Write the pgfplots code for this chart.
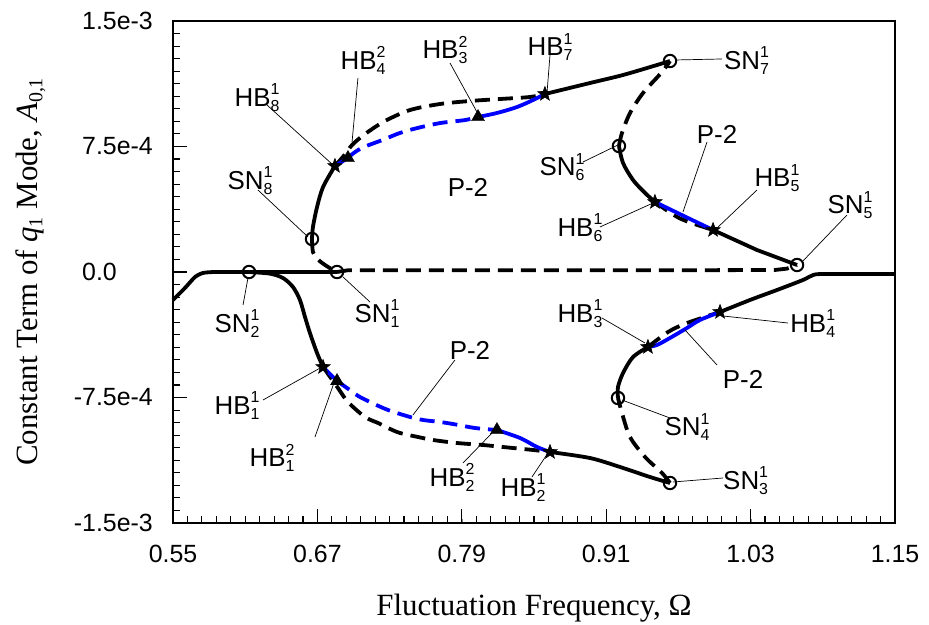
\documentclass[border=0pt]{standalone}
\usepackage{pgfplots}
\pgfplotsset{compat=1.18}
\usepackage{fontspec}
\setmainfont{Liberation Serif}
\newfontfamily\arial{Liberation Sans}
\pgfdeclareplotmark{fstar}{%
  \pgfpathmoveto{\pgfpointpolar{90}{\pgfplotmarksize}}%
  \pgfpathlineto{\pgfpointpolar{126}{0.42\pgfplotmarksize}}%
  \pgfpathlineto{\pgfpointpolar{162}{\pgfplotmarksize}}%
  \pgfpathlineto{\pgfpointpolar{198}{0.42\pgfplotmarksize}}%
  \pgfpathlineto{\pgfpointpolar{234}{\pgfplotmarksize}}%
  \pgfpathlineto{\pgfpointpolar{270}{0.42\pgfplotmarksize}}%
  \pgfpathlineto{\pgfpointpolar{306}{\pgfplotmarksize}}%
  \pgfpathlineto{\pgfpointpolar{342}{0.42\pgfplotmarksize}}%
  \pgfpathlineto{\pgfpointpolar{18}{\pgfplotmarksize}}%
  \pgfpathlineto{\pgfpointpolar{54}{0.42\pgfplotmarksize}}%
  \pgfpathclose\pgfusepathqfillstroke}
\newcommand{\lbl}[3]{#1\rlap{\raisebox{11.5bp}{\fontsize{16}{16}\selectfont #2}}\raisebox{-5bp}{\fontsize{16}{16}\selectfont #3}}
\newcommand{\tklab}[1]{\mbox{\arial\fontsize{25}{28}\selectfont #1}}
\tikzset{
  lab/.style={font=\arial\fontsize{26}{30}\selectfont, inner sep=0pt},
  leader/.style={black, line width=0.7bp},
  tk/.style={black, line width=1.1bp, solid},
  bd/.style={black, line width=3.8bp, dash pattern=on 15bp off 8bp},
  bld/.style={blue, line width=3.8bp, dash pattern=on 15bp off 8bp},
  bs/.style={black, line width=3.8bp},
  bls/.style={blue, line width=3.8bp},
}
\begin{document}
\begin{tikzpicture}
\path[use as bounding box] (-173bp,-102bp) rectangle (756bp,523bp);
\begin{axis}[
  scale only axis, width=722bp, height=502bp,
  xmin=0.55, xmax=1.15, ymin=-15, ymax=15,
  clip=false,
  axis line style={line width=1.1bp},
  tick align=inside, xtick pos=left, ytick pos=left,
  xtick={0.55,0.67,0.79,0.91,1.03,1.15},
  xticklabels={\tklab{0.55},\tklab{0.67},\tklab{0.79},\tklab{0.91},\tklab{1.03},\tklab{1.15}},
  ytick={-15,-7.5,0,7.5,15},
  yticklabels={\tklab{\llap{-}1.5e-3},\tklab{\llap{-}7.5e-4},\tklab{0.0},\tklab{7.5e-4},\tklab{1.5e-3}},
  xticklabel style={anchor=north, inner sep=0pt, yshift=-22bp},
  yticklabel style={anchor=west, inner sep=0pt, xshift=-91bp},
  xlabel={Fluctuation Frequency, Ω},
  ylabel={Constant Term of \textit{q}\raisebox{-5bp}{\fontsize{20}{20}\selectfont 1} Mode, \textit{A}\raisebox{-5bp}{\fontsize{20}{20}\selectfont 0,1}},
  every axis x label/.style={at={(rel axis cs:0.5,-0.1833)}, anchor=base, font=\fontsize{31}{36}\selectfont},
  every axis y label/.style={at={(rel axis cs:-0.188,0.5)}, anchor=base, rotate=90, font=\fontsize{31}{36}\selectfont},
]
% ---- tick marks (inside, left and bottom) ----
\pgfplotsinvokeforeach{0.55,0.562,0.574,0.586,0.598,0.61,0.622,0.634,0.646,0.658,0.67,0.682,0.694,0.706,0.718,0.73,0.742,0.754,0.766,0.778,0.79,0.802,0.814,0.826,0.838,0.85,0.862,0.874,0.886,0.898,0.91,0.922,0.934,0.946,0.958,0.97,0.982,0.994,1.006,1.018,1.03,1.042,1.054,1.066,1.078,1.09,1.102,1.114,1.126,1.138,1.15}{
  \addplot[tk, forget plot] coordinates {(#1,-15) (#1,-14.5817)};
}
\pgfplotsinvokeforeach{0.55,0.67,0.79,0.91,1.03,1.15}{
  \addplot[tk, forget plot] coordinates {(#1,-15) (#1,-14.1633)};
}
\pgfplotsinvokeforeach{-15,-14.25,-13.5,-12.75,-12,-11.25,-10.5,-9.75,-9,-8.25,-7.5,-6.75,-6,-5.25,-4.5,-3.75,-3,-2.25,-1.5,-0.75,0,0.75,1.5,2.25,3,3.75,4.5,5.25,6,6.75,7.5,8.25,9,9.75,10.5,11.25,12,12.75,13.5,14.25,15}{
  \addplot[tk, forget plot] coordinates {(0.55,#1) (0.555817,#1)};
}
\pgfplotsinvokeforeach{-15,-7.5,0,7.5,15}{
  \addplot[tk, forget plot] coordinates {(0.55,#1) (0.561634,#1)};
}
% ---- black dashed (unstable) ----
\addplot[bd, smooth] coordinates {(0.6655,1.972) (0.6663,1.195) (0.6697,0.80) (0.6747,0.50) (0.6800,0.25) (0.6863,0)};
\addplot[bd] coordinates {(0.6863,0) (0.6950,0.10) (0.80,0.10) (0.95,0.10) (1.05,0.12) (1.060,0.20) (1.0686,0.418)};
\addplot[bd, smooth] coordinates {(0.9206,7.530) (0.9231,8.307) (0.9298,9.502) (0.9406,10.697) (0.9564,11.952) (0.9630,12.609)};
\addplot[bd, smooth] coordinates {(0.6846,6.335) (0.6920,6.95) (0.6988,7.590) (0.7096,8.247) (0.7262,9.024) (0.7470,9.681) (0.7719,10.040) (0.7968,10.219) (0.8217,10.338) (0.8467,10.458) (0.8591,10.637)};
\addplot[bd, smooth] coordinates {(0.9505,4.183) (0.9713,3.2) (0.9988,2.510)};
\addplot[bd, smooth] coordinates {(0.6747,-5.677) (0.6871,-6.932) (0.6954,-7.769) (0.7096,-8.665) (0.7204,-9.024) (0.7287,-9.323) (0.7386,-9.621) (0.7536,-9.860) (0.7661,-10.040) (0.7860,-10.219) (0.8076,-10.338) (0.8242,-10.458) (0.8492,-10.637) (0.8633,-10.757)};
\addplot[bd, smooth] coordinates {(0.9630,-12.609) (0.9564,-12.012) (0.9423,-11.056) (0.9298,-9.860) (0.9231,-8.426) (0.9198,-7.530)};
\addplot[bd, smooth] coordinates {(0.9447,-4.482) (0.9614,-3.585) (0.9771,-3.05) (1.0046,-2.390)};
% ---- blue dashed ----
\addplot[bld, smooth] coordinates {(0.6954,6.813) (0.7000,7.10) (0.7080,7.45) (0.7245,7.90) (0.7386,8.31) (0.7528,8.60) (0.7719,8.90) (0.7927,9.08) (0.8035,9.263)};
\addplot[bld, smooth] coordinates {(0.6863,-6.514) (0.6946,-6.932) (0.7037,-7.40) (0.7137,-7.769) (0.7287,-8.247) (0.7470,-8.665) (0.7578,-8.844) (0.7719,-8.964) (0.7827,-9.084) (0.8010,-9.323) (0.8192,-9.442)};
% ---- blue solid ----
\addplot[bls] coordinates {(0.6846,6.335) (0.6954,6.813)};
\addplot[bls, smooth] coordinates {(0.8035,9.263) (0.8192,9.502) (0.8359,9.860) (0.8492,10.278) (0.8591,10.637)};
\addplot[bls, smooth] coordinates {(0.9505,4.183) (0.9750,3.33) (0.9988,2.510)};
\addplot[bls] coordinates {(0.6747,-5.677) (0.6863,-6.514)};
\addplot[bls, smooth] coordinates {(0.8192,-9.442) (0.8384,-9.920) (0.8525,-10.458) (0.8633,-10.757)};
\addplot[bls, smooth] coordinates {(0.9447,-4.482) (0.9522,-4.362) (0.9630,-3.944) (0.9771,-3.347) (0.9879,-2.868) (1.0046,-2.390)};
% ---- black solid ----
\addplot[bs, smooth, tension=0.4] coordinates {(0.55,-1.673) (0.5600,-0.95) (0.5683,-0.299) (0.5749,-0.06) (0.5850,0) (0.6132,0) (0.6863,0)};
\addplot[bs, smooth] coordinates {(0.6132,0) (0.6306,-0.10) (0.6414,-0.359) (0.6497,-0.896) (0.6555,-1.673) (0.6597,-2.689) (0.6638,-3.645) (0.6697,-4.841) (0.6747,-5.677)};
\addplot[bs, smooth] coordinates {(0.6655,1.972) (0.6663,2.689) (0.6697,3.884) (0.6747,5.080) (0.6846,6.335)};
\addplot[bs] coordinates {(1.0686,0.418) (1.0353,1.315) (0.9988,2.510)};
\addplot[bs, smooth] coordinates {(0.9505,4.183) (0.9423,4.721) (0.9323,5.498) (0.9240,6.514) (0.9206,7.530)};
\addplot[bs, smooth] coordinates {(0.8591,10.637) (0.8965,11.294) (0.9240,11.773) (0.9522,12.370) (0.9630,12.609)};
\addplot[bs, smooth] coordinates {(0.8633,-10.757) (0.8965,-11.116) (0.9215,-11.653) (0.9464,-12.251) (0.9630,-12.609)};
\addplot[bs, smooth] coordinates {(0.9198,-7.530) (0.9198,-6.872) (0.9240,-6.036) (0.9323,-5.080) (0.9447,-4.482)};
\addplot[bs, smooth, tension=0.5] coordinates {(1.0046,-2.390) (1.0295,-1.673) (1.0519,-1.076) (1.0735,-0.478) (1.0820,-0.18) (1.0920,-0.12) (1.15,-0.12)};
% ---- markers ----
\addplot[only marks, mark=o, mark size=6.2bp, mark options={black, line width=2bp}] coordinates {(0.6863,0) (0.6132,0) (0.9630,-12.609) (0.9198,-7.530) (1.0686,0.418) (0.9206,7.530) (0.9630,12.609) (0.6655,1.972)};
\addplot[only marks, mark=fstar, mark size=7.5bp, mark options={black, fill=black, line width=0.6bp}] coordinates {(0.6747,-5.677) (0.8633,-10.757) (0.9447,-4.482) (1.0046,-2.390) (0.9988,2.510) (0.9505,4.183) (0.8591,10.637) (0.6846,6.335)};
\addplot[only marks, mark=triangle*, mark size=7.5bp, mark options={black, fill=black}] coordinates {(0.6863,-6.514) (0.8192,-9.442) (0.8035,9.263) (0.6954,6.813)};
% ---- leader lines ----
\draw[leader] (axis cs:0.6281,9.98) -- (axis cs:0.6830,6.394);
\draw[leader] (axis cs:0.6206,4.900) -- (axis cs:0.6622,2.092);
\draw[leader] (axis cs:0.7037,11.593) -- (axis cs:0.6988,7.769);
\draw[leader] (axis cs:0.7802,12.49) -- (axis cs:0.8026,9.562);
\draw[leader] (axis cs:0.8633,12.97) -- (axis cs:0.8608,10.697);
\draw[leader] (axis cs:1.0062,12.73) -- (axis cs:0.9672,12.67);
\draw[leader] (axis cs:0.8907,6.574) -- (axis cs:0.9198,7.590);
\draw[leader] (axis cs:0.9938,7.769) -- (axis cs:0.9738,3.586);
\draw[leader] (axis cs:1.0353,4.900) -- (axis cs:1.0021,2.629);
\draw[leader] (axis cs:0.9048,2.689) -- (axis cs:0.9489,4.123);
\draw[leader] (axis cs:1.1101,3.406) -- (axis cs:1.0727,0.598);
\draw[leader] (axis cs:0.6082,-1.972) -- (axis cs:0.6123,-0.359);
\draw[leader] (axis cs:0.6913,-0.299) -- (axis cs:0.7137,-1.793);
\draw[leader] (axis cs:0.6248,-7.649) -- (axis cs:0.6738,-5.677);
\draw[leader] (axis cs:0.6680,-9.860) -- (axis cs:0.6846,-6.454);
\draw[leader] (axis cs:0.7843,-5.259) -- (axis cs:0.7494,-8.546);
\draw[leader] (axis cs:0.7910,-11.414) -- (axis cs:0.8151,-9.621);
\draw[leader] (axis cs:0.8483,-12.25) -- (axis cs:0.8616,-10.817);
\draw[leader] (axis cs:0.9065,-2.749) -- (axis cs:0.9422,-4.243);
\draw[leader] (axis cs:1.0611,-3.048) -- (axis cs:1.0071,-2.629);
\draw[leader] (axis cs:1.0021,-5.558) -- (axis cs:0.9755,-3.466);
\draw[leader] (axis cs:0.9630,-8.725) -- (axis cs:0.9231,-7.649);
\draw[leader] (axis cs:1.0071,-12.31) -- (axis cs:0.9655,-12.55);
% ---- labels ----
\node[lab, anchor=base] at (axis cs:0.6198,9.92) {\lbl{HB}{1}{8}};
\node[lab, anchor=base] at (axis cs:0.6140,4.96) {\lbl{SN}{1}{8}};
\node[lab, anchor=base] at (axis cs:0.7079,12.13) {\lbl{HB}{2}{4}};
\node[lab, anchor=base] at (axis cs:0.7760,12.73) {\lbl{HB}{2}{3}};
\node[lab, anchor=base] at (axis cs:0.8633,12.91) {\lbl{HB}{1}{7}};
\node[lab, anchor=base west] at (axis cs:1.0079,12.13) {\lbl{SN}{1}{7}};
\node[lab, anchor=base] at (axis cs:0.8733,5.74) {\lbl{SN}{1}{6}};
\node[lab, anchor=base] at (axis cs:0.7951,4.54) {P-2};
\node[lab, anchor=base] at (axis cs:1.0021,7.65) {P-2};
\node[lab, anchor=base] at (axis cs:1.0519,5.08) {\lbl{HB}{1}{5}};
\node[lab, anchor=base] at (axis cs:0.8882,2.15) {\lbl{HB}{1}{6}};
\node[lab, anchor=base] at (axis cs:1.1126,3.47) {\lbl{SN}{1}{5}};
\node[lab, anchor=base] at (axis cs:0.6032,-3.59) {\lbl{SN}{1}{2}};
\node[lab, anchor=base] at (axis cs:0.7195,-2.99) {\lbl{SN}{1}{1}};
\node[lab, anchor=base] at (axis cs:0.6032,-8.49) {\lbl{HB}{1}{1}};
\node[lab, anchor=base] at (axis cs:0.6323,-11.65) {\lbl{HB}{2}{1}};
\node[lab, anchor=base] at (axis cs:0.7968,-5.20) {P-2};
\node[lab, anchor=base] at (axis cs:0.7819,-12.79) {\lbl{HB}{2}{2}};
\node[lab, anchor=base] at (axis cs:0.8409,-13.39) {\lbl{HB}{1}{2}};
\node[lab, anchor=base] at (axis cs:0.8882,-2.99) {\lbl{HB}{1}{3}};
\node[lab, anchor=base west] at (axis cs:1.0628,-3.59) {\lbl{HB}{1}{4}};
\node[lab, anchor=base] at (axis cs:1.0237,-6.99) {P-2};
\node[lab, anchor=base] at (axis cs:0.9771,-9.80) {\lbl{SN}{1}{4}};
\node[lab, anchor=base west] at (axis cs:1.0071,-12.97) {\lbl{SN}{1}{3}};
\end{axis}
\end{tikzpicture}
\end{document}
